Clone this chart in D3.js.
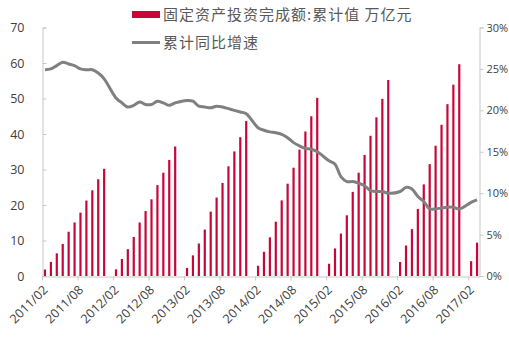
<!DOCTYPE html>
<html><head><meta charset="utf-8">
<script src="https://cdn.jsdelivr.net/npm/d3@7/dist/d3.min.js"></script>
<style>body{margin:0;background:#fff;} svg{display:block;}</style>
</head><body><svg id="c" width="509" height="339"></svg>
<script>
// ---- data (cumulative fixed asset investment, trillion yuan; cumulative YoY growth, %) ----
const months = [
  "2011/02","2011/03","2011/04","2011/05","2011/06","2011/07","2011/08","2011/09","2011/10","2011/11","2011/12",
  "2012/02","2012/03","2012/04","2012/05","2012/06","2012/07","2012/08","2012/09","2012/10","2012/11","2012/12",
  "2013/02","2013/03","2013/04","2013/05","2013/06","2013/07","2013/08","2013/09","2013/10","2013/11","2013/12",
  "2014/02","2014/03","2014/04","2014/05","2014/06","2014/07","2014/08","2014/09","2014/10","2014/11","2014/12",
  "2015/02","2015/03","2015/04","2015/05","2015/06","2015/07","2015/08","2015/09","2015/10","2015/11","2015/12",
  "2016/02","2016/03","2016/04","2016/05","2016/06","2016/07","2016/08","2016/09","2016/10","2016/11","2016/12",
  "2017/02","2017/03"
];
const investment = [
  1.83, 3.97, 6.39, 9.02, 12.47, 15.09, 17.86, 21.25, 24.13, 27.26, 30.19,
  1.88, 4.79, 7.56, 11.0, 15.07, 18.3, 21.6, 25.6, 29.1, 32.7, 36.48,
  2.27, 5.81, 9.15, 13.08, 18.13, 22.1, 26.2, 30.9, 35.1, 39.1, 43.65,
  2.88, 6.82, 10.9, 15.3, 21.3, 26.0, 30.5, 35.6, 40.7, 45.0, 50.2,
  3.45, 7.76, 11.95, 17.1, 23.7, 29.1, 34.1, 39.5, 44.7, 49.9, 55.2,
  3.94, 8.58, 13.2, 18.9, 25.8, 31.5, 36.7, 42.6, 48.4, 53.9, 59.65,
  4.18, 9.38
];
const growth = [
  24.9, 25.0, 25.4, 25.8, 25.6, 25.4, 25.0, 24.9, 24.9, 24.5, 23.8,
  21.5, 20.9, 20.4, 20.6, 21.0, 20.7, 20.7, 21.1, 20.9, 20.6, 20.9,
  21.2, 21.1, 20.5, 20.4, 20.3, 20.5, 20.4, 20.2, 20.0, 19.8, 19.6,
  17.9, 17.6, 17.4, 17.3, 17.1, 16.7, 16.1, 15.7, 15.4, 15.3, 15.0,
  13.9, 13.5, 12.0, 11.4, 11.4, 11.2, 10.9, 10.3, 10.2, 10.2, 10.0,
  10.2, 10.7, 10.5, 9.6, 9.0, 8.1, 8.1, 8.2, 8.3, 8.3, 8.1,
  8.9, 9.2
];
const leftTicks = [0, 10, 20, 30, 40, 50, 60, 70];
const rightTicks = [0, 5, 10, 15, 20, 25, 30];
const xTickLabels = ["2011/02","2011/08","2012/02","2012/08","2013/02","2013/08","2014/02",
                     "2014/08","2015/02","2015/08","2016/02","2016/08","2017/02"];
const legendLabels = ["固定资产投资完成额:累计值 万亿元", "累计同比增速"];

// ---- layout ----
const svg = d3.select("#c");
const P = {l: 42, r: 480, t: 27.5, b: 276};
const barColor = "#c8063a", lineColor = "#808080", axisColor = "#c8c8c8", textColor = "#404040";

// full monthly domain (January slots included as empty categories)
const domain = [];
for (let y = 2011; y <= 2017; y++) for (let mo = 1; mo <= 12; mo++) {
  const s = y + "/" + String(mo).padStart(2, "0");
  if (s >= months[0] && s <= months[months.length - 1]) domain.push(s);
}
const x = d3.scaleBand().domain(domain).range([P.l, P.r]).padding(0);
const bw = x.bandwidth();
const yL = d3.scaleLinear().domain([0, 70]).range([P.b, P.t]);
const yR = d3.scaleLinear().domain([0, 30]).range([P.b, P.t]);

const data = months.map((m, i) => ({m, v: investment[i], g: growth[i]}));

// bars
const barW = bw * 0.37;
svg.append("g").selectAll("rect").data(data).join("rect")
  .attr("x", d => x(d.m) + (bw - barW) / 2)
  .attr("y", d => yL(d.v))
  .attr("width", barW)
  .attr("height", d => yL(0) - yL(d.v))
  .attr("fill", barColor);

// line
const line = d3.line()
  .x(d => x(d.m) + bw / 2)
  .y(d => yR(d.g))
  .curve(d3.curveCatmullRom.alpha(0.5));
svg.append("path").datum(data)
  .attr("d", line).attr("fill", "none")
  .attr("stroke", lineColor).attr("stroke-width", 3).attr("stroke-linejoin", "round");

// axes
const font = "'Open Sans', 'Liberation Sans', sans-serif";
function styleAxis(g, size) {
  g.selectAll(".domain").attr("stroke", axisColor);
  g.selectAll(".tick line").attr("stroke", axisColor);
  g.selectAll(".tick text").attr("fill", textColor).style("font-family", font).style("font-size", size);
}
const gl = svg.append("g").attr("transform", `translate(${P.l + 0.5},0)`)
  .call(d3.axisLeft(yL).tickValues(leftTicks).tickSize(-4).tickSizeOuter(-4).tickPadding(18));
styleAxis(gl, "12.5px");
const gr = svg.append("g").attr("transform", `translate(${P.r - 0.5},0)`)
  .call(d3.axisRight(yR).tickValues(rightTicks).tickSize(4).tickSizeOuter(4).tickPadding(3).tickFormat(d => d + "%"));
styleAxis(gr, "11px");
const gx = svg.append("g").attr("transform", `translate(0,${P.b + 0.5})`)
  .call(d3.axisBottom(x).tickValues(xTickLabels).tickSize(4).tickSizeOuter(0));
styleAxis(gx, "12.5px");
gx.selectAll(".tick").attr("transform", d => `translate(${x(d) + 0.5},0)`);
gx.selectAll(".tick text")
  .attr("text-anchor", "end")
  .attr("dy", "0.35em")
  .attr("transform", "translate(3,11) rotate(-45)")
  .attr("y", 0).attr("x", 0);

// legend
const lg = svg.append("g").style("font-family", "'Noto Sans CJK SC', sans-serif").style("font-size", "15px");
lg.append("rect").attr("x", 132).attr("y", 11).attr("width", 28).attr("height", 7).attr("fill", barColor);
lg.append("line").attr("x1", 132).attr("x2", 160).attr("y1", 42.5).attr("y2", 42.5)
  .attr("stroke", lineColor).attr("stroke-width", 3);
lg.selectAll("text").data(legendLabels).join("text")
  .attr("x", 163).attr("y", (d, i) => i === 0 ? 14.5 : 43)
  .attr("dy", "0.35em").attr("fill", "#595959").style("letter-spacing", "1px")
  .text(d => d);
</script>
</body></html>
